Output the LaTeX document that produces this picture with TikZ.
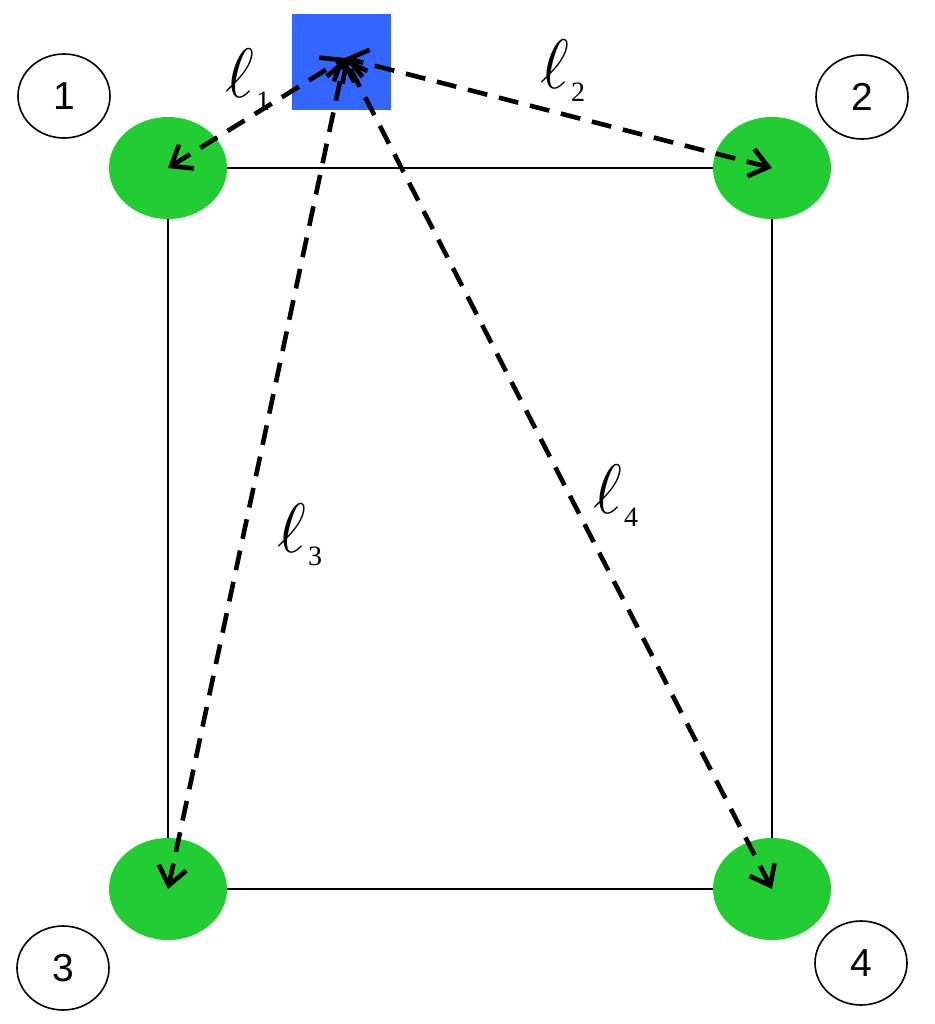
\RequirePackage{fix-cm}
\documentclass[tikz,border=0pt]{standalone}
\usepackage{fontspec}
\setmainfont{Liberation Sans}
\newfontfamily\subfont{Liberation Serif}
\usetikzlibrary{arrows.meta,shapes.geometric}

\definecolor{nodegreen}{RGB}{34,204,51}
\definecolor{beaconblue}{RGB}{51,102,255}

\newcommand\ellsub[1]{{\fontsize{35}{35}\selectfont$\ell$}\kern1pt\raisebox{-6.5pt}{\subfont\fontsize{14}{14}\selectfont #1}}

\begin{document}
\begin{tikzpicture}[x=0.5pt,y=-0.5pt,
 sensor/.style={ellipse,fill=nodegreen,minimum width=59pt,minimum height=51pt,inner sep=0pt},
 beacon/.style={rectangle,fill=beaconblue,minimum width=49.5pt,minimum height=48pt,inner sep=0pt},
 tag/.style={ellipse,draw,line width=.8pt,minimum width=46pt,minimum height=42pt,inner sep=0pt,font=\fontsize{19.5}{20}\selectfont},
 wall/.style={line width=1pt},
 link/.style={{Straight Barb[length=9pt,width=14pt]}-{Straight Barb[length=9pt,width=14pt]},line width=2.3pt,dash pattern=on 10pt off 6pt},
 lab/.style={anchor=base west,inner sep=0pt}]
\useasboundingbox (0,0) rectangle (935,1024);
\node[sensor] (s1) at (168,168) {};
\node[sensor] (s2) at (772,168) {};
\node[sensor] (s3) at (168,889) {};
\node[sensor] (s4) at (772,889) {};
\draw[wall] (s1)--(s2);
\draw[wall] (s2)--(s4);
\draw[wall] (s4)--(s3);
\draw[wall] (s3)--(s1);
\node[tag] (t1) at (64,96) {1};
\node[tag] (t2) at (862,97) {2};
\node[tag] (t3) at (63,968) {3};
\node[tag] (t4) at (861,963) {4};
\node[beacon] (src) at (341.5,62) {};
\coordinate (hub) at (345,58);
\draw[link] (s1.center)--(hub);
\draw[link] (s2.center)--(hub);
\draw[link] (s3.center)--(hub);
\draw[link] (s4.center)--(hub);
\node[lab] (l1) at (225,97) {\ellsub{1}};
\node[lab] (l2) at (540,88) {\ellsub{2}};
\node[lab] (l3) at (277,552) {\ellsub{3}};
\node[lab] (l4) at (593,513) {\ellsub{4}};
\end{tikzpicture}
\end{document}
